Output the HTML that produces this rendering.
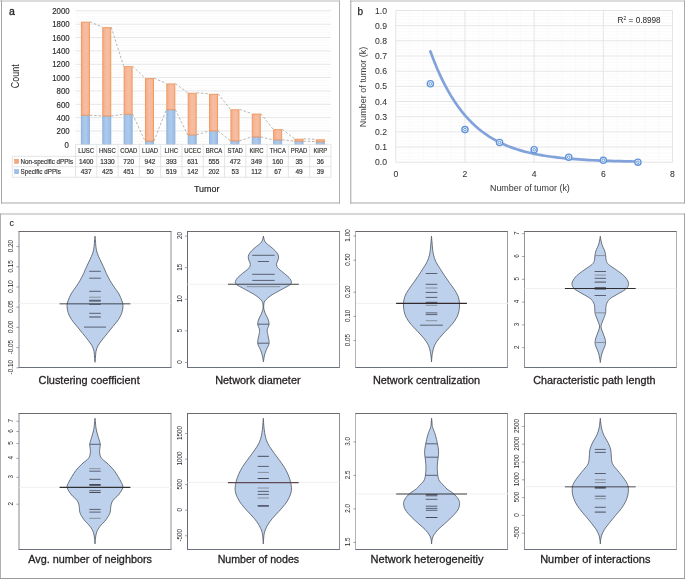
<!DOCTYPE html>
<html><head><meta charset="utf-8"><style>
html,body{margin:0;padding:0;background:#fff;}
body{width:685px;height:579px;overflow:hidden;}
svg{display:block;font-family:"Liberation Sans", sans-serif;will-change:transform;}
</style></head><body>
<svg width="685" height="579" viewBox="0 0 685 579">
<defs>
<linearGradient id="go" x1="0" y1="0" x2="1" y2="0"><stop offset="0" stop-color="#f4ac88"/><stop offset="0.5" stop-color="#f7bea3"/><stop offset="1" stop-color="#f5b593"/></linearGradient>
<linearGradient id="gb" x1="0" y1="0" x2="1" y2="0"><stop offset="0" stop-color="#9dbfe6"/><stop offset="0.5" stop-color="#afcaea"/><stop offset="1" stop-color="#98bae4"/></linearGradient>
</defs>
<rect width="685" height="579" fill="#fff"/>
<g fill="none">
<line x1="0" y1="1" x2="340" y2="1" stroke="#b8b8b8" stroke-width="1"/>
<line x1="1.5" y1="0.5" x2="1.5" y2="203.5" stroke="#a6a6a6"/>
<line x1="339.5" y1="0.5" x2="339.5" y2="203.5" stroke="#b0b0b0"/>
<line x1="1" y1="203" x2="340" y2="203" stroke="#a8a8a8"/>
<line x1="350" y1="1" x2="685" y2="1" stroke="#b8b8b8"/>
<line x1="350.8" y1="0.5" x2="350.8" y2="203.5" stroke="#a0a0a0"/>
<line x1="684.5" y1="0.5" x2="684.5" y2="203.5" stroke="#a8a8a8"/>
<line x1="350" y1="203" x2="685" y2="203" stroke="#a8a8a8"/>
<line x1="0" y1="214" x2="685" y2="214" stroke="#b0b0b0"/>
<line x1="0.5" y1="213.5" x2="0.5" y2="579" stroke="#b0b0b0"/>
<line x1="684.5" y1="213.5" x2="684.5" y2="579" stroke="#a4a4a4"/>
<line x1="0" y1="578.5" x2="685" y2="578.5" stroke="#9a9a9a"/>
</g>
<line x1="75.5" y1="141.68" x2="331.0" y2="141.68" stroke="#f9f9f9" stroke-width="0.8"/>
<line x1="75.5" y1="139.01" x2="331.0" y2="139.01" stroke="#f9f9f9" stroke-width="0.8"/>
<line x1="75.5" y1="136.34" x2="331.0" y2="136.34" stroke="#f9f9f9" stroke-width="0.8"/>
<line x1="75.5" y1="133.67" x2="331.0" y2="133.67" stroke="#f9f9f9" stroke-width="0.8"/>
<line x1="75.5" y1="128.33" x2="331.0" y2="128.33" stroke="#f9f9f9" stroke-width="0.8"/>
<line x1="75.5" y1="125.66" x2="331.0" y2="125.66" stroke="#f9f9f9" stroke-width="0.8"/>
<line x1="75.5" y1="122.99" x2="331.0" y2="122.99" stroke="#f9f9f9" stroke-width="0.8"/>
<line x1="75.5" y1="120.32" x2="331.0" y2="120.32" stroke="#f9f9f9" stroke-width="0.8"/>
<line x1="75.5" y1="114.98" x2="331.0" y2="114.98" stroke="#f9f9f9" stroke-width="0.8"/>
<line x1="75.5" y1="112.31" x2="331.0" y2="112.31" stroke="#f9f9f9" stroke-width="0.8"/>
<line x1="75.5" y1="109.64" x2="331.0" y2="109.64" stroke="#f9f9f9" stroke-width="0.8"/>
<line x1="75.5" y1="106.97" x2="331.0" y2="106.97" stroke="#f9f9f9" stroke-width="0.8"/>
<line x1="75.5" y1="101.63" x2="331.0" y2="101.63" stroke="#f9f9f9" stroke-width="0.8"/>
<line x1="75.5" y1="98.96" x2="331.0" y2="98.96" stroke="#f9f9f9" stroke-width="0.8"/>
<line x1="75.5" y1="96.29" x2="331.0" y2="96.29" stroke="#f9f9f9" stroke-width="0.8"/>
<line x1="75.5" y1="93.62" x2="331.0" y2="93.62" stroke="#f9f9f9" stroke-width="0.8"/>
<line x1="75.5" y1="88.28" x2="331.0" y2="88.28" stroke="#f9f9f9" stroke-width="0.8"/>
<line x1="75.5" y1="85.61" x2="331.0" y2="85.61" stroke="#f9f9f9" stroke-width="0.8"/>
<line x1="75.5" y1="82.94" x2="331.0" y2="82.94" stroke="#f9f9f9" stroke-width="0.8"/>
<line x1="75.5" y1="80.27" x2="331.0" y2="80.27" stroke="#f9f9f9" stroke-width="0.8"/>
<line x1="75.5" y1="74.93" x2="331.0" y2="74.93" stroke="#f9f9f9" stroke-width="0.8"/>
<line x1="75.5" y1="72.26" x2="331.0" y2="72.26" stroke="#f9f9f9" stroke-width="0.8"/>
<line x1="75.5" y1="69.59" x2="331.0" y2="69.59" stroke="#f9f9f9" stroke-width="0.8"/>
<line x1="75.5" y1="66.92" x2="331.0" y2="66.92" stroke="#f9f9f9" stroke-width="0.8"/>
<line x1="75.5" y1="61.58" x2="331.0" y2="61.58" stroke="#f9f9f9" stroke-width="0.8"/>
<line x1="75.5" y1="58.91" x2="331.0" y2="58.91" stroke="#f9f9f9" stroke-width="0.8"/>
<line x1="75.5" y1="56.24" x2="331.0" y2="56.24" stroke="#f9f9f9" stroke-width="0.8"/>
<line x1="75.5" y1="53.57" x2="331.0" y2="53.57" stroke="#f9f9f9" stroke-width="0.8"/>
<line x1="75.5" y1="48.23" x2="331.0" y2="48.23" stroke="#f9f9f9" stroke-width="0.8"/>
<line x1="75.5" y1="45.56" x2="331.0" y2="45.56" stroke="#f9f9f9" stroke-width="0.8"/>
<line x1="75.5" y1="42.89" x2="331.0" y2="42.89" stroke="#f9f9f9" stroke-width="0.8"/>
<line x1="75.5" y1="40.22" x2="331.0" y2="40.22" stroke="#f9f9f9" stroke-width="0.8"/>
<line x1="75.5" y1="34.88" x2="331.0" y2="34.88" stroke="#f9f9f9" stroke-width="0.8"/>
<line x1="75.5" y1="32.21" x2="331.0" y2="32.21" stroke="#f9f9f9" stroke-width="0.8"/>
<line x1="75.5" y1="29.54" x2="331.0" y2="29.54" stroke="#f9f9f9" stroke-width="0.8"/>
<line x1="75.5" y1="26.87" x2="331.0" y2="26.87" stroke="#f9f9f9" stroke-width="0.8"/>
<line x1="75.5" y1="21.53" x2="331.0" y2="21.53" stroke="#f9f9f9" stroke-width="0.8"/>
<line x1="75.5" y1="18.86" x2="331.0" y2="18.86" stroke="#f9f9f9" stroke-width="0.8"/>
<line x1="75.5" y1="16.19" x2="331.0" y2="16.19" stroke="#f9f9f9" stroke-width="0.8"/>
<line x1="75.5" y1="13.52" x2="331.0" y2="13.52" stroke="#f9f9f9" stroke-width="0.8"/>
<line x1="75.5" y1="131.00" x2="331.0" y2="131.00" stroke="#dedede" stroke-width="0.8"/>
<line x1="75.5" y1="117.65" x2="331.0" y2="117.65" stroke="#dedede" stroke-width="0.8"/>
<line x1="75.5" y1="104.30" x2="331.0" y2="104.30" stroke="#dedede" stroke-width="0.8"/>
<line x1="75.5" y1="90.95" x2="331.0" y2="90.95" stroke="#dedede" stroke-width="0.8"/>
<line x1="75.5" y1="77.60" x2="331.0" y2="77.60" stroke="#dedede" stroke-width="0.8"/>
<line x1="75.5" y1="64.25" x2="331.0" y2="64.25" stroke="#dedede" stroke-width="0.8"/>
<line x1="75.5" y1="50.90" x2="331.0" y2="50.90" stroke="#dedede" stroke-width="0.8"/>
<line x1="75.5" y1="37.55" x2="331.0" y2="37.55" stroke="#dedede" stroke-width="0.8"/>
<line x1="75.5" y1="24.20" x2="331.0" y2="24.20" stroke="#dedede" stroke-width="0.8"/>
<line x1="75.5" y1="10.85" x2="331.0" y2="10.85" stroke="#dedede" stroke-width="0.8"/>
<text x="68.80" y="147.55" font-size="8.6" fill="#2e2e2e" text-anchor="end" textLength="4.35" lengthAdjust="spacingAndGlyphs" stroke="#2e2e2e" stroke-width="0.18">0</text>
<text x="69.60" y="134.20" font-size="8.6" fill="#2e2e2e" text-anchor="end" textLength="13.05" lengthAdjust="spacingAndGlyphs" stroke="#2e2e2e" stroke-width="0.18">200</text>
<text x="69.60" y="120.85" font-size="8.6" fill="#2e2e2e" text-anchor="end" textLength="13.05" lengthAdjust="spacingAndGlyphs" stroke="#2e2e2e" stroke-width="0.18">400</text>
<text x="69.60" y="107.50" font-size="8.6" fill="#2e2e2e" text-anchor="end" textLength="13.05" lengthAdjust="spacingAndGlyphs" stroke="#2e2e2e" stroke-width="0.18">600</text>
<text x="69.60" y="94.15" font-size="8.6" fill="#2e2e2e" text-anchor="end" textLength="13.05" lengthAdjust="spacingAndGlyphs" stroke="#2e2e2e" stroke-width="0.18">800</text>
<text x="69.60" y="80.80" font-size="8.6" fill="#2e2e2e" text-anchor="end" textLength="17.4" lengthAdjust="spacingAndGlyphs" stroke="#2e2e2e" stroke-width="0.18">1000</text>
<text x="69.60" y="67.45" font-size="8.6" fill="#2e2e2e" text-anchor="end" textLength="17.4" lengthAdjust="spacingAndGlyphs" stroke="#2e2e2e" stroke-width="0.18">1200</text>
<text x="69.60" y="54.10" font-size="8.6" fill="#2e2e2e" text-anchor="end" textLength="17.4" lengthAdjust="spacingAndGlyphs" stroke="#2e2e2e" stroke-width="0.18">1400</text>
<text x="69.60" y="40.75" font-size="8.6" fill="#2e2e2e" text-anchor="end" textLength="17.4" lengthAdjust="spacingAndGlyphs" stroke="#2e2e2e" stroke-width="0.18">1600</text>
<text x="69.60" y="27.40" font-size="8.6" fill="#2e2e2e" text-anchor="end" textLength="17.4" lengthAdjust="spacingAndGlyphs" stroke="#2e2e2e" stroke-width="0.18">1800</text>
<text x="69.60" y="14.05" font-size="8.6" fill="#2e2e2e" text-anchor="end" textLength="17.4" lengthAdjust="spacingAndGlyphs" stroke="#2e2e2e" stroke-width="0.18">2000</text>
<rect x="81.40" y="115.18" width="8.00" height="29.17" fill="url(#gb)" stroke="#8db3e2" stroke-width="1"/>
<rect x="81.40" y="22.23" width="8.00" height="92.95" fill="url(#go)" stroke="#f09a62" stroke-width="1"/>
<rect x="102.76" y="115.98" width="8.00" height="28.37" fill="url(#gb)" stroke="#8db3e2" stroke-width="1"/>
<rect x="102.76" y="27.70" width="8.00" height="88.28" fill="url(#go)" stroke="#f09a62" stroke-width="1"/>
<rect x="124.12" y="114.25" width="8.00" height="30.10" fill="url(#gb)" stroke="#8db3e2" stroke-width="1"/>
<rect x="124.12" y="66.69" width="8.00" height="47.56" fill="url(#go)" stroke="#f09a62" stroke-width="1"/>
<rect x="145.48" y="141.01" width="8.00" height="3.34" fill="url(#gb)" stroke="#8db3e2" stroke-width="1"/>
<rect x="145.48" y="78.63" width="8.00" height="62.38" fill="url(#go)" stroke="#f09a62" stroke-width="1"/>
<rect x="166.84" y="109.71" width="8.00" height="34.64" fill="url(#gb)" stroke="#8db3e2" stroke-width="1"/>
<rect x="166.84" y="83.97" width="8.00" height="25.73" fill="url(#go)" stroke="#f09a62" stroke-width="1"/>
<rect x="188.20" y="134.87" width="8.00" height="9.48" fill="url(#gb)" stroke="#8db3e2" stroke-width="1"/>
<rect x="188.20" y="93.25" width="8.00" height="41.62" fill="url(#go)" stroke="#f09a62" stroke-width="1"/>
<rect x="209.56" y="130.87" width="8.00" height="13.48" fill="url(#gb)" stroke="#8db3e2" stroke-width="1"/>
<rect x="209.56" y="94.32" width="8.00" height="36.55" fill="url(#go)" stroke="#f09a62" stroke-width="1"/>
<rect x="230.92" y="140.81" width="8.00" height="3.54" fill="url(#gb)" stroke="#8db3e2" stroke-width="1"/>
<rect x="230.92" y="109.81" width="8.00" height="31.01" fill="url(#go)" stroke="#f09a62" stroke-width="1"/>
<rect x="252.28" y="136.87" width="8.00" height="7.48" fill="url(#gb)" stroke="#8db3e2" stroke-width="1"/>
<rect x="252.28" y="114.08" width="8.00" height="22.80" fill="url(#go)" stroke="#f09a62" stroke-width="1"/>
<rect x="273.64" y="139.88" width="8.00" height="4.47" fill="url(#gb)" stroke="#8db3e2" stroke-width="1"/>
<rect x="273.64" y="129.70" width="8.00" height="10.18" fill="url(#go)" stroke="#f09a62" stroke-width="1"/>
<rect x="295.00" y="141.08" width="8.00" height="3.27" fill="url(#gb)" stroke="#8db3e2" stroke-width="1"/>
<rect x="295.00" y="139.24" width="8.00" height="1.84" fill="url(#go)" stroke="#f09a62" stroke-width="1"/>
<rect x="316.36" y="141.75" width="8.00" height="2.60" fill="url(#gb)" stroke="#8db3e2" stroke-width="1"/>
<rect x="316.36" y="139.84" width="8.00" height="1.90" fill="url(#go)" stroke="#f09a62" stroke-width="1"/>
<line x1="89.90" y1="115.18" x2="102.26" y2="115.98" stroke="#9a9a9a" stroke-width="0.7" stroke-dasharray="2.5,1.8"/>
<line x1="89.90" y1="21.73" x2="102.26" y2="27.20" stroke="#9a9a9a" stroke-width="0.7" stroke-dasharray="2.5,1.8"/>
<line x1="111.26" y1="115.98" x2="123.62" y2="114.25" stroke="#9a9a9a" stroke-width="0.7" stroke-dasharray="2.5,1.8"/>
<line x1="111.26" y1="27.20" x2="123.62" y2="66.19" stroke="#9a9a9a" stroke-width="0.7" stroke-dasharray="2.5,1.8"/>
<line x1="132.62" y1="114.25" x2="144.98" y2="141.01" stroke="#9a9a9a" stroke-width="0.7" stroke-dasharray="2.5,1.8"/>
<line x1="132.62" y1="66.19" x2="144.98" y2="78.13" stroke="#9a9a9a" stroke-width="0.7" stroke-dasharray="2.5,1.8"/>
<line x1="153.98" y1="141.01" x2="166.34" y2="109.71" stroke="#9a9a9a" stroke-width="0.7" stroke-dasharray="2.5,1.8"/>
<line x1="153.98" y1="78.13" x2="166.34" y2="83.47" stroke="#9a9a9a" stroke-width="0.7" stroke-dasharray="2.5,1.8"/>
<line x1="175.34" y1="109.71" x2="187.70" y2="134.87" stroke="#9a9a9a" stroke-width="0.7" stroke-dasharray="2.5,1.8"/>
<line x1="175.34" y1="83.47" x2="187.70" y2="92.75" stroke="#9a9a9a" stroke-width="0.7" stroke-dasharray="2.5,1.8"/>
<line x1="196.70" y1="134.87" x2="209.06" y2="130.87" stroke="#9a9a9a" stroke-width="0.7" stroke-dasharray="2.5,1.8"/>
<line x1="196.70" y1="92.75" x2="209.06" y2="93.82" stroke="#9a9a9a" stroke-width="0.7" stroke-dasharray="2.5,1.8"/>
<line x1="218.06" y1="130.87" x2="230.42" y2="140.81" stroke="#9a9a9a" stroke-width="0.7" stroke-dasharray="2.5,1.8"/>
<line x1="218.06" y1="93.82" x2="230.42" y2="109.31" stroke="#9a9a9a" stroke-width="0.7" stroke-dasharray="2.5,1.8"/>
<line x1="239.42" y1="140.81" x2="251.78" y2="136.87" stroke="#9a9a9a" stroke-width="0.7" stroke-dasharray="2.5,1.8"/>
<line x1="239.42" y1="109.31" x2="251.78" y2="113.58" stroke="#9a9a9a" stroke-width="0.7" stroke-dasharray="2.5,1.8"/>
<line x1="260.78" y1="136.87" x2="273.14" y2="139.88" stroke="#9a9a9a" stroke-width="0.7" stroke-dasharray="2.5,1.8"/>
<line x1="260.78" y1="113.58" x2="273.14" y2="129.20" stroke="#9a9a9a" stroke-width="0.7" stroke-dasharray="2.5,1.8"/>
<line x1="282.14" y1="139.88" x2="294.50" y2="141.08" stroke="#9a9a9a" stroke-width="0.7" stroke-dasharray="2.5,1.8"/>
<line x1="282.14" y1="129.20" x2="294.50" y2="138.74" stroke="#9a9a9a" stroke-width="0.7" stroke-dasharray="2.5,1.8"/>
<line x1="303.50" y1="141.08" x2="315.86" y2="141.75" stroke="#9a9a9a" stroke-width="0.7" stroke-dasharray="2.5,1.8"/>
<line x1="303.50" y1="138.74" x2="315.86" y2="139.34" stroke="#9a9a9a" stroke-width="0.7" stroke-dasharray="2.5,1.8"/>
<g stroke="#dedede" stroke-width="0.8" fill="none">
<line x1="75.5" y1="144.35" x2="331.0" y2="144.35"/>
<line x1="12.3" y1="156.3" x2="331.0" y2="156.3"/>
<line x1="12.3" y1="166.7" x2="331.0" y2="166.7"/>
<line x1="12.3" y1="177.3" x2="331.0" y2="177.3"/>
<line x1="12.3" y1="156.3" x2="12.3" y2="177.3"/>
<line x1="75.50" y1="144.35" x2="75.50" y2="177.3"/>
<line x1="96.79" y1="144.35" x2="96.79" y2="177.3"/>
<line x1="118.08" y1="144.35" x2="118.08" y2="177.3"/>
<line x1="139.38" y1="144.35" x2="139.38" y2="177.3"/>
<line x1="160.67" y1="144.35" x2="160.67" y2="177.3"/>
<line x1="181.96" y1="144.35" x2="181.96" y2="177.3"/>
<line x1="203.25" y1="144.35" x2="203.25" y2="177.3"/>
<line x1="224.54" y1="144.35" x2="224.54" y2="177.3"/>
<line x1="245.83" y1="144.35" x2="245.83" y2="177.3"/>
<line x1="267.12" y1="144.35" x2="267.12" y2="177.3"/>
<line x1="288.42" y1="144.35" x2="288.42" y2="177.3"/>
<line x1="309.71" y1="144.35" x2="309.71" y2="177.3"/>
<line x1="331.00" y1="144.35" x2="331.00" y2="177.3"/>
</g>
<text x="86.15" y="153.00" font-size="6.6" fill="#333333" text-anchor="middle" textLength="15.84" lengthAdjust="spacingAndGlyphs" stroke="#333333" stroke-width="0.18">LUSC</text>
<text x="86.15" y="163.90" font-size="6.5" fill="#333333" text-anchor="middle"  stroke="#333333" stroke-width="0.18">1400</text>
<text x="86.15" y="174.20" font-size="6.5" fill="#333333" text-anchor="middle"  stroke="#333333" stroke-width="0.18">437</text>
<text x="107.44" y="153.00" font-size="6.6" fill="#333333" text-anchor="middle" textLength="16.83" lengthAdjust="spacingAndGlyphs" stroke="#333333" stroke-width="0.18">HNSC</text>
<text x="107.44" y="163.90" font-size="6.5" fill="#333333" text-anchor="middle"  stroke="#333333" stroke-width="0.18">1330</text>
<text x="107.44" y="174.20" font-size="6.5" fill="#333333" text-anchor="middle"  stroke="#333333" stroke-width="0.18">425</text>
<text x="128.73" y="153.00" font-size="6.6" fill="#333333" text-anchor="middle" textLength="17.16" lengthAdjust="spacingAndGlyphs" stroke="#333333" stroke-width="0.18">COAD</text>
<text x="128.73" y="163.90" font-size="6.5" fill="#333333" text-anchor="middle"  stroke="#333333" stroke-width="0.18">720</text>
<text x="128.73" y="174.20" font-size="6.5" fill="#333333" text-anchor="middle"  stroke="#333333" stroke-width="0.18">451</text>
<text x="150.02" y="153.00" font-size="6.6" fill="#333333" text-anchor="middle" textLength="15.84" lengthAdjust="spacingAndGlyphs" stroke="#333333" stroke-width="0.18">LUAD</text>
<text x="150.02" y="163.90" font-size="6.5" fill="#333333" text-anchor="middle"  stroke="#333333" stroke-width="0.18">942</text>
<text x="150.02" y="174.20" font-size="6.5" fill="#333333" text-anchor="middle"  stroke="#333333" stroke-width="0.18">50</text>
<text x="171.31" y="153.00" font-size="6.6" fill="#333333" text-anchor="middle" textLength="13.53" lengthAdjust="spacingAndGlyphs" stroke="#333333" stroke-width="0.18">LIHC</text>
<text x="171.31" y="163.90" font-size="6.5" fill="#333333" text-anchor="middle"  stroke="#333333" stroke-width="0.18">393</text>
<text x="171.31" y="174.20" font-size="6.5" fill="#333333" text-anchor="middle"  stroke="#333333" stroke-width="0.18">519</text>
<text x="192.60" y="153.00" font-size="6.6" fill="#333333" text-anchor="middle" textLength="16.83" lengthAdjust="spacingAndGlyphs" stroke="#333333" stroke-width="0.18">UCEC</text>
<text x="192.60" y="163.90" font-size="6.5" fill="#333333" text-anchor="middle"  stroke="#333333" stroke-width="0.18">631</text>
<text x="192.60" y="174.20" font-size="6.5" fill="#333333" text-anchor="middle"  stroke="#333333" stroke-width="0.18">142</text>
<text x="213.90" y="153.00" font-size="6.6" fill="#333333" text-anchor="middle" textLength="16.50" lengthAdjust="spacingAndGlyphs" stroke="#333333" stroke-width="0.18">BRCA</text>
<text x="213.90" y="163.90" font-size="6.5" fill="#333333" text-anchor="middle"  stroke="#333333" stroke-width="0.18">555</text>
<text x="213.90" y="174.20" font-size="6.5" fill="#333333" text-anchor="middle"  stroke="#333333" stroke-width="0.18">202</text>
<text x="235.19" y="153.00" font-size="6.6" fill="#333333" text-anchor="middle" textLength="15.40" lengthAdjust="spacingAndGlyphs" stroke="#333333" stroke-width="0.18">STAD</text>
<text x="235.19" y="163.90" font-size="6.5" fill="#333333" text-anchor="middle"  stroke="#333333" stroke-width="0.18">472</text>
<text x="235.19" y="174.20" font-size="6.5" fill="#333333" text-anchor="middle"  stroke="#333333" stroke-width="0.18">53</text>
<text x="256.48" y="153.00" font-size="6.6" fill="#333333" text-anchor="middle" textLength="14.19" lengthAdjust="spacingAndGlyphs" stroke="#333333" stroke-width="0.18">KIRC</text>
<text x="256.48" y="163.90" font-size="6.5" fill="#333333" text-anchor="middle"  stroke="#333333" stroke-width="0.18">349</text>
<text x="256.48" y="174.20" font-size="6.5" fill="#333333" text-anchor="middle"  stroke="#333333" stroke-width="0.18">112</text>
<text x="277.77" y="153.00" font-size="6.6" fill="#333333" text-anchor="middle" textLength="16.17" lengthAdjust="spacingAndGlyphs" stroke="#333333" stroke-width="0.18">THCA</text>
<text x="277.77" y="163.90" font-size="6.5" fill="#333333" text-anchor="middle"  stroke="#333333" stroke-width="0.18">160</text>
<text x="277.77" y="174.20" font-size="6.5" fill="#333333" text-anchor="middle"  stroke="#333333" stroke-width="0.18">67</text>
<text x="299.06" y="153.00" font-size="6.6" fill="#333333" text-anchor="middle" textLength="16.50" lengthAdjust="spacingAndGlyphs" stroke="#333333" stroke-width="0.18">PRAD</text>
<text x="299.06" y="163.90" font-size="6.5" fill="#333333" text-anchor="middle"  stroke="#333333" stroke-width="0.18">35</text>
<text x="299.06" y="174.20" font-size="6.5" fill="#333333" text-anchor="middle"  stroke="#333333" stroke-width="0.18">49</text>
<text x="320.35" y="153.00" font-size="6.6" fill="#333333" text-anchor="middle" textLength="13.86" lengthAdjust="spacingAndGlyphs" stroke="#333333" stroke-width="0.18">KIRP</text>
<text x="320.35" y="163.90" font-size="6.5" fill="#333333" text-anchor="middle"  stroke="#333333" stroke-width="0.18">36</text>
<text x="320.35" y="174.20" font-size="6.5" fill="#333333" text-anchor="middle"  stroke="#333333" stroke-width="0.18">39</text>
<rect x="14.7" y="159.3" width="4" height="4" fill="#f4a77e" stroke="#ee8d55" stroke-width="0.5"/>
<rect x="14.7" y="169.7" width="4" height="4" fill="#9fc0e6" stroke="#7fa7da" stroke-width="0.5"/>
<text x="20.50" y="163.90" font-size="6.6" fill="#333333" text-anchor="start" textLength="52.7" lengthAdjust="spacingAndGlyphs" stroke="#333333" stroke-width="0.18">Non-specific dPPIs</text>
<text x="20.50" y="174.20" font-size="6.6" fill="#333333" text-anchor="start" textLength="40.5" lengthAdjust="spacingAndGlyphs" stroke="#333333" stroke-width="0.18">Specific dPPIs</text>
<text x="206.70" y="192.20" font-size="9.2" fill="#262626" text-anchor="middle" textLength="25.5" lengthAdjust="spacingAndGlyphs" stroke="#262626" stroke-width="0.18">Tumor</text>
<text transform="translate(19.2,76.2) rotate(-90)" font-size="10" fill="#262626" text-anchor="middle" textLength="23.9" lengthAdjust="spacingAndGlyphs">Count</text>
<text x="9.00" y="14.90" font-size="10.5" fill="#262626" text-anchor="start" stroke="#262626" stroke-width="0.35">a</text>
<line x1="395.8" y1="159.17" x2="672.5" y2="159.17" stroke="#f9f9f9" stroke-width="0.8"/>
<line x1="395.8" y1="156.13" x2="672.5" y2="156.13" stroke="#f9f9f9" stroke-width="0.8"/>
<line x1="395.8" y1="153.10" x2="672.5" y2="153.10" stroke="#f9f9f9" stroke-width="0.8"/>
<line x1="395.8" y1="150.06" x2="672.5" y2="150.06" stroke="#f9f9f9" stroke-width="0.8"/>
<line x1="395.8" y1="144.00" x2="672.5" y2="144.00" stroke="#f9f9f9" stroke-width="0.8"/>
<line x1="395.8" y1="140.96" x2="672.5" y2="140.96" stroke="#f9f9f9" stroke-width="0.8"/>
<line x1="395.8" y1="137.93" x2="672.5" y2="137.93" stroke="#f9f9f9" stroke-width="0.8"/>
<line x1="395.8" y1="134.89" x2="672.5" y2="134.89" stroke="#f9f9f9" stroke-width="0.8"/>
<line x1="395.8" y1="128.83" x2="672.5" y2="128.83" stroke="#f9f9f9" stroke-width="0.8"/>
<line x1="395.8" y1="125.79" x2="672.5" y2="125.79" stroke="#f9f9f9" stroke-width="0.8"/>
<line x1="395.8" y1="122.76" x2="672.5" y2="122.76" stroke="#f9f9f9" stroke-width="0.8"/>
<line x1="395.8" y1="119.72" x2="672.5" y2="119.72" stroke="#f9f9f9" stroke-width="0.8"/>
<line x1="395.8" y1="113.66" x2="672.5" y2="113.66" stroke="#f9f9f9" stroke-width="0.8"/>
<line x1="395.8" y1="110.62" x2="672.5" y2="110.62" stroke="#f9f9f9" stroke-width="0.8"/>
<line x1="395.8" y1="107.59" x2="672.5" y2="107.59" stroke="#f9f9f9" stroke-width="0.8"/>
<line x1="395.8" y1="104.55" x2="672.5" y2="104.55" stroke="#f9f9f9" stroke-width="0.8"/>
<line x1="395.8" y1="98.49" x2="672.5" y2="98.49" stroke="#f9f9f9" stroke-width="0.8"/>
<line x1="395.8" y1="95.45" x2="672.5" y2="95.45" stroke="#f9f9f9" stroke-width="0.8"/>
<line x1="395.8" y1="92.42" x2="672.5" y2="92.42" stroke="#f9f9f9" stroke-width="0.8"/>
<line x1="395.8" y1="89.38" x2="672.5" y2="89.38" stroke="#f9f9f9" stroke-width="0.8"/>
<line x1="395.8" y1="83.32" x2="672.5" y2="83.32" stroke="#f9f9f9" stroke-width="0.8"/>
<line x1="395.8" y1="80.28" x2="672.5" y2="80.28" stroke="#f9f9f9" stroke-width="0.8"/>
<line x1="395.8" y1="77.25" x2="672.5" y2="77.25" stroke="#f9f9f9" stroke-width="0.8"/>
<line x1="395.8" y1="74.21" x2="672.5" y2="74.21" stroke="#f9f9f9" stroke-width="0.8"/>
<line x1="395.8" y1="68.15" x2="672.5" y2="68.15" stroke="#f9f9f9" stroke-width="0.8"/>
<line x1="395.8" y1="65.11" x2="672.5" y2="65.11" stroke="#f9f9f9" stroke-width="0.8"/>
<line x1="395.8" y1="62.08" x2="672.5" y2="62.08" stroke="#f9f9f9" stroke-width="0.8"/>
<line x1="395.8" y1="59.04" x2="672.5" y2="59.04" stroke="#f9f9f9" stroke-width="0.8"/>
<line x1="395.8" y1="52.98" x2="672.5" y2="52.98" stroke="#f9f9f9" stroke-width="0.8"/>
<line x1="395.8" y1="49.94" x2="672.5" y2="49.94" stroke="#f9f9f9" stroke-width="0.8"/>
<line x1="395.8" y1="46.91" x2="672.5" y2="46.91" stroke="#f9f9f9" stroke-width="0.8"/>
<line x1="395.8" y1="43.87" x2="672.5" y2="43.87" stroke="#f9f9f9" stroke-width="0.8"/>
<line x1="395.8" y1="37.81" x2="672.5" y2="37.81" stroke="#f9f9f9" stroke-width="0.8"/>
<line x1="395.8" y1="34.77" x2="672.5" y2="34.77" stroke="#f9f9f9" stroke-width="0.8"/>
<line x1="395.8" y1="31.74" x2="672.5" y2="31.74" stroke="#f9f9f9" stroke-width="0.8"/>
<line x1="395.8" y1="28.70" x2="672.5" y2="28.70" stroke="#f9f9f9" stroke-width="0.8"/>
<line x1="395.8" y1="22.64" x2="672.5" y2="22.64" stroke="#f9f9f9" stroke-width="0.8"/>
<line x1="395.8" y1="19.60" x2="672.5" y2="19.60" stroke="#f9f9f9" stroke-width="0.8"/>
<line x1="395.8" y1="16.57" x2="672.5" y2="16.57" stroke="#f9f9f9" stroke-width="0.8"/>
<line x1="395.8" y1="13.53" x2="672.5" y2="13.53" stroke="#f9f9f9" stroke-width="0.8"/>
<line x1="409.63" y1="10.5" x2="409.63" y2="162.2" stroke="#f9f9f9" stroke-width="0.8"/>
<line x1="423.47" y1="10.5" x2="423.47" y2="162.2" stroke="#f9f9f9" stroke-width="0.8"/>
<line x1="437.31" y1="10.5" x2="437.31" y2="162.2" stroke="#f9f9f9" stroke-width="0.8"/>
<line x1="451.14" y1="10.5" x2="451.14" y2="162.2" stroke="#f9f9f9" stroke-width="0.8"/>
<line x1="478.81" y1="10.5" x2="478.81" y2="162.2" stroke="#f9f9f9" stroke-width="0.8"/>
<line x1="492.64" y1="10.5" x2="492.64" y2="162.2" stroke="#f9f9f9" stroke-width="0.8"/>
<line x1="506.48" y1="10.5" x2="506.48" y2="162.2" stroke="#f9f9f9" stroke-width="0.8"/>
<line x1="520.32" y1="10.5" x2="520.32" y2="162.2" stroke="#f9f9f9" stroke-width="0.8"/>
<line x1="547.99" y1="10.5" x2="547.99" y2="162.2" stroke="#f9f9f9" stroke-width="0.8"/>
<line x1="561.82" y1="10.5" x2="561.82" y2="162.2" stroke="#f9f9f9" stroke-width="0.8"/>
<line x1="575.65" y1="10.5" x2="575.65" y2="162.2" stroke="#f9f9f9" stroke-width="0.8"/>
<line x1="589.49" y1="10.5" x2="589.49" y2="162.2" stroke="#f9f9f9" stroke-width="0.8"/>
<line x1="617.16" y1="10.5" x2="617.16" y2="162.2" stroke="#f9f9f9" stroke-width="0.8"/>
<line x1="631.00" y1="10.5" x2="631.00" y2="162.2" stroke="#f9f9f9" stroke-width="0.8"/>
<line x1="644.83" y1="10.5" x2="644.83" y2="162.2" stroke="#f9f9f9" stroke-width="0.8"/>
<line x1="658.66" y1="10.5" x2="658.66" y2="162.2" stroke="#f9f9f9" stroke-width="0.8"/>
<line x1="395.8" y1="162.20" x2="672.5" y2="162.20" stroke="#dedede" stroke-width="0.8"/>
<line x1="395.8" y1="147.03" x2="672.5" y2="147.03" stroke="#dedede" stroke-width="0.8"/>
<line x1="395.8" y1="131.86" x2="672.5" y2="131.86" stroke="#dedede" stroke-width="0.8"/>
<line x1="395.8" y1="116.69" x2="672.5" y2="116.69" stroke="#dedede" stroke-width="0.8"/>
<line x1="395.8" y1="101.52" x2="672.5" y2="101.52" stroke="#dedede" stroke-width="0.8"/>
<line x1="395.8" y1="86.35" x2="672.5" y2="86.35" stroke="#dedede" stroke-width="0.8"/>
<line x1="395.8" y1="71.18" x2="672.5" y2="71.18" stroke="#dedede" stroke-width="0.8"/>
<line x1="395.8" y1="56.01" x2="672.5" y2="56.01" stroke="#dedede" stroke-width="0.8"/>
<line x1="395.8" y1="40.84" x2="672.5" y2="40.84" stroke="#dedede" stroke-width="0.8"/>
<line x1="395.8" y1="25.67" x2="672.5" y2="25.67" stroke="#dedede" stroke-width="0.8"/>
<line x1="395.8" y1="10.50" x2="672.5" y2="10.50" stroke="#dedede" stroke-width="0.8"/>
<line x1="395.80" y1="10.5" x2="395.80" y2="162.2" stroke="#dedede" stroke-width="0.8"/>
<line x1="464.98" y1="10.5" x2="464.98" y2="162.2" stroke="#dedede" stroke-width="0.8"/>
<line x1="534.15" y1="10.5" x2="534.15" y2="162.2" stroke="#dedede" stroke-width="0.8"/>
<line x1="603.33" y1="10.5" x2="603.33" y2="162.2" stroke="#dedede" stroke-width="0.8"/>
<line x1="672.50" y1="10.5" x2="672.50" y2="162.2" stroke="#dedede" stroke-width="0.8"/>
<text x="387.00" y="165.30" font-size="8.6" fill="#333333" text-anchor="end"  stroke="#333333" stroke-width="0.06">0.0</text>
<text x="387.00" y="150.13" font-size="8.6" fill="#333333" text-anchor="end"  stroke="#333333" stroke-width="0.06">0.1</text>
<text x="387.00" y="134.96" font-size="8.6" fill="#333333" text-anchor="end"  stroke="#333333" stroke-width="0.06">0.2</text>
<text x="387.00" y="119.79" font-size="8.6" fill="#333333" text-anchor="end"  stroke="#333333" stroke-width="0.06">0.3</text>
<text x="387.00" y="104.62" font-size="8.6" fill="#333333" text-anchor="end"  stroke="#333333" stroke-width="0.06">0.4</text>
<text x="387.00" y="89.45" font-size="8.6" fill="#333333" text-anchor="end"  stroke="#333333" stroke-width="0.06">0.5</text>
<text x="387.00" y="74.28" font-size="8.6" fill="#333333" text-anchor="end"  stroke="#333333" stroke-width="0.06">0.6</text>
<text x="387.00" y="59.11" font-size="8.6" fill="#333333" text-anchor="end"  stroke="#333333" stroke-width="0.06">0.7</text>
<text x="387.00" y="43.94" font-size="8.6" fill="#333333" text-anchor="end"  stroke="#333333" stroke-width="0.06">0.8</text>
<text x="387.00" y="28.77" font-size="8.6" fill="#333333" text-anchor="end"  stroke="#333333" stroke-width="0.06">0.9</text>
<text x="387.00" y="13.60" font-size="8.6" fill="#333333" text-anchor="end"  stroke="#333333" stroke-width="0.06">1.0</text>
<text x="395.80" y="177.00" font-size="8.6" fill="#333333" text-anchor="middle"  stroke="#333333" stroke-width="0.06">0</text>
<text x="464.98" y="177.00" font-size="8.6" fill="#333333" text-anchor="middle"  stroke="#333333" stroke-width="0.06">2</text>
<text x="534.15" y="177.00" font-size="8.6" fill="#333333" text-anchor="middle"  stroke="#333333" stroke-width="0.06">4</text>
<text x="603.33" y="177.00" font-size="8.6" fill="#333333" text-anchor="middle"  stroke="#333333" stroke-width="0.06">6</text>
<text x="672.50" y="177.00" font-size="8.6" fill="#333333" text-anchor="middle"  stroke="#333333" stroke-width="0.06">8</text>
<polyline points="430.39,51.47 433.85,60.59 437.31,68.96 440.76,76.65 444.22,83.70 447.68,90.17 451.14,96.10 454.60,101.55 458.06,106.55 461.52,111.13 464.98,115.34 468.43,119.20 471.89,122.75 475.35,126.00 478.81,128.98 482.27,131.72 485.73,134.23 489.19,136.53 492.64,138.65 496.10,140.59 499.56,142.37 503.02,144.01 506.48,145.50 509.94,146.88 513.40,148.14 516.86,149.30 520.32,150.36 523.77,151.34 527.23,152.23 530.69,153.06 534.15,153.81 537.61,154.50 541.07,155.14 544.53,155.72 547.99,156.25 551.44,156.74 554.90,157.19 558.36,157.60 561.82,157.98 565.28,158.33 568.74,158.65 572.20,158.94 575.65,159.21 579.11,159.46 582.57,159.68 586.03,159.89 589.49,160.08 592.95,160.26 596.41,160.42 599.87,160.56 603.33,160.70 606.78,160.82 610.24,160.93 613.70,161.04 617.16,161.13 620.62,161.22 624.08,161.30 627.54,161.38 631.00,161.44 634.45,161.51 637.91,161.56" fill="none" stroke="#82a2db" stroke-width="2.7" stroke-linecap="round"/>
<circle cx="430.39" cy="83.77" r="3.1" fill="#fff" stroke="#6195d8" stroke-width="1.4"/>
<circle cx="430.39" cy="83.77" r="1.3" fill="none" stroke="#6195d8" stroke-width="1.0"/>
<circle cx="464.98" cy="129.58" r="3.1" fill="#fff" stroke="#6195d8" stroke-width="1.4"/>
<circle cx="464.98" cy="129.58" r="1.3" fill="none" stroke="#6195d8" stroke-width="1.0"/>
<circle cx="499.56" cy="142.48" r="3.1" fill="#fff" stroke="#6195d8" stroke-width="1.4"/>
<circle cx="499.56" cy="142.48" r="1.3" fill="none" stroke="#6195d8" stroke-width="1.0"/>
<circle cx="534.15" cy="149.76" r="3.1" fill="#fff" stroke="#6195d8" stroke-width="1.4"/>
<circle cx="534.15" cy="149.76" r="1.3" fill="none" stroke="#6195d8" stroke-width="1.0"/>
<circle cx="568.74" cy="157.19" r="3.1" fill="#fff" stroke="#6195d8" stroke-width="1.4"/>
<circle cx="568.74" cy="157.19" r="1.3" fill="none" stroke="#6195d8" stroke-width="1.0"/>
<circle cx="603.33" cy="160.30" r="3.1" fill="#fff" stroke="#6195d8" stroke-width="1.4"/>
<circle cx="603.33" cy="160.30" r="1.3" fill="none" stroke="#6195d8" stroke-width="1.0"/>
<circle cx="637.91" cy="162.20" r="3.1" fill="#fff" stroke="#6195d8" stroke-width="1.4"/>
<circle cx="637.91" cy="162.20" r="1.3" fill="none" stroke="#6195d8" stroke-width="1.0"/>
<text x="529.90" y="190.70" font-size="9" fill="#404040" text-anchor="middle" textLength="79.9" lengthAdjust="spacingAndGlyphs" stroke="#404040" stroke-width="0.06">Number of tumor (k)</text>
<text transform="translate(366.4,87) rotate(-90)" font-size="9" fill="#404040" text-anchor="middle" textLength="80.3" lengthAdjust="spacingAndGlyphs">Number of tumor (k)</text>
<text x="617.6" y="22.7" font-size="8.2" fill="#262626">R<tspan font-size="5" dy="-3.2">2</tspan><tspan dy="3.2"> = 0.8998</tspan></text>
<text x="357.60" y="14.60" font-size="10.0" fill="#262626" text-anchor="start" stroke="#262626" stroke-width="0.25">b</text>
<text x="9.40" y="226.40" font-size="8.8" fill="#231f20" text-anchor="start" stroke="#231f20" stroke-width="0.1">c</text>
<line x1="18.50" y1="231.50" x2="171.50" y2="231.50" stroke="#6e686e" stroke-width="1"/>
<line x1="18.50" y1="367.50" x2="171.50" y2="367.50" stroke="#6a707c" stroke-width="1"/>
<line x1="19.00" y1="231.50" x2="19.00" y2="367.50" stroke="#8a8690" stroke-width="1"/>
<line x1="171.00" y1="231.50" x2="171.00" y2="367.50" stroke="#938e96" stroke-width="1"/>
<line x1="187.00" y1="231.50" x2="340.00" y2="231.50" stroke="#6e686e" stroke-width="1"/>
<line x1="187.00" y1="367.50" x2="340.00" y2="367.50" stroke="#6a707c" stroke-width="1"/>
<line x1="187.50" y1="231.50" x2="187.50" y2="367.50" stroke="#666a74" stroke-width="1"/>
<line x1="339.50" y1="231.50" x2="339.50" y2="367.50" stroke="#8e8e94" stroke-width="1"/>
<line x1="355.00" y1="231.50" x2="508.00" y2="231.50" stroke="#6e686e" stroke-width="1"/>
<line x1="355.00" y1="367.50" x2="508.00" y2="367.50" stroke="#6a707c" stroke-width="1"/>
<line x1="355.50" y1="231.50" x2="355.50" y2="367.50" stroke="#b8b0b4" stroke-width="1"/>
<line x1="507.50" y1="231.50" x2="507.50" y2="367.50" stroke="#9a9aa2" stroke-width="1"/>
<line x1="524.00" y1="231.50" x2="677.00" y2="231.50" stroke="#6e686e" stroke-width="1"/>
<line x1="524.00" y1="367.50" x2="677.00" y2="367.50" stroke="#6a707c" stroke-width="1"/>
<line x1="524.50" y1="231.50" x2="524.50" y2="367.50" stroke="#94949c" stroke-width="1"/>
<line x1="676.50" y1="231.50" x2="676.50" y2="367.50" stroke="#b4aeb4" stroke-width="1"/>
<line x1="18.50" y1="413.50" x2="171.50" y2="413.50" stroke="#6e686e" stroke-width="1"/>
<line x1="18.50" y1="549.50" x2="171.50" y2="549.50" stroke="#6a707c" stroke-width="1"/>
<line x1="19.00" y1="413.50" x2="19.00" y2="549.50" stroke="#8a8690" stroke-width="1"/>
<line x1="171.00" y1="413.50" x2="171.00" y2="549.50" stroke="#938e96" stroke-width="1"/>
<line x1="187.00" y1="413.50" x2="340.00" y2="413.50" stroke="#6e686e" stroke-width="1"/>
<line x1="187.00" y1="549.50" x2="340.00" y2="549.50" stroke="#6a707c" stroke-width="1"/>
<line x1="187.50" y1="413.50" x2="187.50" y2="549.50" stroke="#666a74" stroke-width="1"/>
<line x1="339.50" y1="413.50" x2="339.50" y2="549.50" stroke="#8e8e94" stroke-width="1"/>
<line x1="355.00" y1="413.50" x2="508.00" y2="413.50" stroke="#6e686e" stroke-width="1"/>
<line x1="355.00" y1="549.50" x2="508.00" y2="549.50" stroke="#6a707c" stroke-width="1"/>
<line x1="355.50" y1="413.50" x2="355.50" y2="549.50" stroke="#b8b0b4" stroke-width="1"/>
<line x1="507.50" y1="413.50" x2="507.50" y2="549.50" stroke="#9a9aa2" stroke-width="1"/>
<line x1="524.00" y1="413.50" x2="677.00" y2="413.50" stroke="#6e686e" stroke-width="1"/>
<line x1="524.00" y1="549.50" x2="677.00" y2="549.50" stroke="#6a707c" stroke-width="1"/>
<line x1="524.50" y1="413.50" x2="524.50" y2="549.50" stroke="#94949c" stroke-width="1"/>
<line x1="676.50" y1="413.50" x2="676.50" y2="549.50" stroke="#b4aeb4" stroke-width="1"/>
<text x="89.10" y="384.00" font-size="11.2" fill="#231f20" text-anchor="middle" textLength="101.2" lengthAdjust="spacingAndGlyphs" stroke="#231f20" stroke-width="0.3">Clustering coefficient</text>
<text x="257.90" y="384.00" font-size="11.2" fill="#231f20" text-anchor="middle" textLength="85.4" lengthAdjust="spacingAndGlyphs" stroke="#231f20" stroke-width="0.3">Network diameter</text>
<text x="426.50" y="384.00" font-size="11.2" fill="#231f20" text-anchor="middle" textLength="107.2" lengthAdjust="spacingAndGlyphs" stroke="#231f20" stroke-width="0.3">Network centralization</text>
<text x="594.30" y="384.00" font-size="11.2" fill="#231f20" text-anchor="middle" textLength="122.2" lengthAdjust="spacingAndGlyphs" stroke="#231f20" stroke-width="0.3">Characteristic path length</text>
<text x="90.10" y="562.90" font-size="11.2" fill="#231f20" text-anchor="middle" textLength="123.8" lengthAdjust="spacingAndGlyphs" stroke="#231f20" stroke-width="0.3">Avg. number of neighbors</text>
<text x="258.40" y="562.90" font-size="11.2" fill="#231f20" text-anchor="middle" textLength="81.5" lengthAdjust="spacingAndGlyphs" stroke="#231f20" stroke-width="0.3">Number of nodes</text>
<text x="427.00" y="562.90" font-size="11.2" fill="#231f20" text-anchor="middle" textLength="112.9" lengthAdjust="spacingAndGlyphs" stroke="#231f20" stroke-width="0.3">Network heterogeneitiy</text>
<text x="595.30" y="562.90" font-size="11.2" fill="#231f20" text-anchor="middle" textLength="110.3" lengthAdjust="spacingAndGlyphs" stroke="#231f20" stroke-width="0.3">Number of interactions</text>
<line x1="16.40" y1="246.60" x2="19.00" y2="246.60" stroke="#7a8090" stroke-width="0.7"/>
<text transform="translate(13.20,246.10) rotate(-90)" font-size="6.3" fill="#231f20" text-anchor="middle">0.20</text>
<line x1="16.40" y1="266.80" x2="19.00" y2="266.80" stroke="#7a8090" stroke-width="0.7"/>
<text transform="translate(13.20,266.30) rotate(-90)" font-size="6.3" fill="#231f20" text-anchor="middle">0.15</text>
<line x1="16.40" y1="287.00" x2="19.00" y2="287.00" stroke="#7a8090" stroke-width="0.7"/>
<text transform="translate(13.20,286.50) rotate(-90)" font-size="6.3" fill="#231f20" text-anchor="middle">0.10</text>
<line x1="16.40" y1="307.20" x2="19.00" y2="307.20" stroke="#7a8090" stroke-width="0.7"/>
<text transform="translate(13.20,306.70) rotate(-90)" font-size="6.3" fill="#231f20" text-anchor="middle">0.05</text>
<line x1="16.40" y1="327.40" x2="19.00" y2="327.40" stroke="#7a8090" stroke-width="0.7"/>
<text transform="translate(13.20,326.90) rotate(-90)" font-size="6.3" fill="#231f20" text-anchor="middle">0.00</text>
<line x1="16.40" y1="347.60" x2="19.00" y2="347.60" stroke="#7a8090" stroke-width="0.7"/>
<text transform="translate(13.20,347.10) rotate(-90)" font-size="6.3" fill="#231f20" text-anchor="middle">-0.05</text>
<line x1="16.40" y1="367.80" x2="19.00" y2="367.80" stroke="#7a8090" stroke-width="0.7"/>
<text transform="translate(13.20,367.30) rotate(-90)" font-size="6.3" fill="#231f20" text-anchor="middle">-0.10</text>
<line x1="19.00" y1="303.40" x2="171.00" y2="303.40" stroke="#eceef0" stroke-width="0.9"/>
<path d="M95.00,236.20 C95.08,237.00 95.35,239.28 95.50,241.00 C95.65,242.72 95.62,244.50 95.90,246.50 C96.18,248.50 96.52,250.83 97.20,253.00 C97.88,255.17 98.98,257.27 100.00,259.50 C101.02,261.73 102.25,264.10 103.30,266.40 C104.35,268.70 105.22,271.00 106.30,273.30 C107.38,275.60 108.47,277.88 109.80,280.20 C111.13,282.52 112.77,284.90 114.30,287.20 C115.83,289.50 117.72,291.70 119.00,294.00 C120.28,296.30 121.33,299.05 122.00,301.00 C122.67,302.95 123.02,303.77 123.00,305.70 C122.98,307.63 122.65,310.30 121.90,312.60 C121.15,314.90 119.98,317.20 118.50,319.50 C117.02,321.80 114.85,324.10 113.00,326.40 C111.15,328.70 109.25,331.00 107.40,333.30 C105.55,335.60 103.47,338.12 101.90,340.20 C100.33,342.28 98.98,343.95 98.00,345.80 C97.02,347.65 96.42,349.43 96.00,351.30 C95.58,353.17 95.67,355.17 95.50,357.00 C95.33,358.83 95.08,361.42 95.00,362.30 L95.00,362.30 C94.92,361.42 94.67,358.83 94.50,357.00 C94.33,355.17 94.42,353.17 94.00,351.30 C93.58,349.43 92.98,347.65 92.00,345.80 C91.02,343.95 89.67,342.28 88.10,340.20 C86.53,338.12 84.45,335.60 82.60,333.30 C80.75,331.00 78.85,328.70 77.00,326.40 C75.15,324.10 72.98,321.80 71.50,319.50 C70.02,317.20 68.85,314.90 68.10,312.60 C67.35,310.30 67.02,307.63 67.00,305.70 C66.98,303.77 67.33,302.95 68.00,301.00 C68.67,299.05 69.72,296.30 71.00,294.00 C72.28,291.70 74.17,289.50 75.70,287.20 C77.23,284.90 78.87,282.52 80.20,280.20 C81.53,277.88 82.62,275.60 83.70,273.30 C84.78,271.00 85.65,268.70 86.70,266.40 C87.75,264.10 88.98,261.73 90.00,259.50 C91.02,257.27 92.12,255.17 92.80,253.00 C93.48,250.83 93.82,248.50 94.10,246.50 C94.38,244.50 94.35,242.72 94.50,241.00 C94.65,239.28 94.92,237.00 95.00,236.20 Z" fill="#bdd1ed" stroke="#454c58" stroke-width="0.75"/>
<line x1="89.20" y1="271.30" x2="100.80" y2="271.30" stroke="#5a6070" stroke-width="1"/>
<line x1="89.20" y1="278.20" x2="100.80" y2="278.20" stroke="#5a6070" stroke-width="1"/>
<line x1="89.20" y1="291.30" x2="100.80" y2="291.30" stroke="#5a6070" stroke-width="1"/>
<line x1="89.20" y1="297.20" x2="100.80" y2="297.20" stroke="#8a909c" stroke-width="1"/>
<line x1="89.20" y1="300.30" x2="100.80" y2="300.30" stroke="#474c58" stroke-width="1"/>
<line x1="89.20" y1="301.10" x2="100.80" y2="301.10" stroke="#5a6070" stroke-width="1"/>
<line x1="89.20" y1="304.30" x2="100.80" y2="304.30" stroke="#5a6070" stroke-width="1"/>
<line x1="89.20" y1="313.30" x2="100.80" y2="313.30" stroke="#5a6070" stroke-width="1"/>
<line x1="89.20" y1="317.00" x2="100.80" y2="317.00" stroke="#474c58" stroke-width="1"/>
<line x1="84.00" y1="327.10" x2="106.00" y2="327.10" stroke="#5a6070" stroke-width="1"/>
<line x1="59.60" y1="303.80" x2="130.40" y2="303.80" stroke="#272a30" stroke-opacity="0.55" stroke-width="1.4"/>
<line x1="184.90" y1="236.10" x2="187.50" y2="236.10" stroke="#7a8090" stroke-width="0.7"/>
<text transform="translate(181.70,235.60) rotate(-90)" font-size="6.3" fill="#231f20" text-anchor="middle">20</text>
<line x1="184.90" y1="267.70" x2="187.50" y2="267.70" stroke="#7a8090" stroke-width="0.7"/>
<text transform="translate(181.70,267.20) rotate(-90)" font-size="6.3" fill="#231f20" text-anchor="middle">15</text>
<line x1="184.90" y1="299.30" x2="187.50" y2="299.30" stroke="#7a8090" stroke-width="0.7"/>
<text transform="translate(181.70,298.80) rotate(-90)" font-size="6.3" fill="#231f20" text-anchor="middle">10</text>
<line x1="184.90" y1="330.90" x2="187.50" y2="330.90" stroke="#7a8090" stroke-width="0.7"/>
<text transform="translate(181.70,330.40) rotate(-90)" font-size="6.3" fill="#231f20" text-anchor="middle">5</text>
<line x1="184.90" y1="362.50" x2="187.50" y2="362.50" stroke="#7a8090" stroke-width="0.7"/>
<text transform="translate(181.70,362.00) rotate(-90)" font-size="6.3" fill="#231f20" text-anchor="middle">0</text>
<line x1="187.50" y1="284.30" x2="339.50" y2="284.30" stroke="#eceef0" stroke-width="0.9"/>
<path d="M263.40,236.10 C263.57,236.80 263.90,239.08 264.40,240.30 C264.90,241.52 265.40,242.37 266.40,243.40 C267.40,244.43 268.95,245.28 270.40,246.50 C271.85,247.72 273.82,249.32 275.10,250.70 C276.38,252.08 277.55,253.43 278.10,254.80 C278.65,256.17 278.63,257.52 278.40,258.90 C278.17,260.28 276.97,261.88 276.70,263.10 C276.43,264.32 276.38,265.17 276.80,266.20 C277.22,267.23 277.93,268.08 279.20,269.30 C280.47,270.52 282.77,272.12 284.40,273.50 C286.03,274.88 287.83,276.27 289.00,277.60 C290.17,278.93 291.17,280.35 291.40,281.50 C291.63,282.65 291.30,283.57 290.40,284.50 C289.50,285.43 287.62,286.18 286.00,287.10 C284.38,288.02 283.20,288.60 280.70,290.00 C278.20,291.40 273.63,293.67 271.00,295.50 C268.37,297.33 266.10,299.42 264.90,301.00 C263.70,302.58 263.97,303.62 263.80,305.00 C263.63,306.38 263.55,307.65 263.90,309.30 C264.25,310.95 265.22,313.28 265.90,314.90 C266.58,316.52 267.47,317.45 268.00,319.00 C268.53,320.55 269.17,322.62 269.10,324.20 C269.03,325.78 267.92,327.30 267.60,328.50 C267.28,329.70 267.13,330.22 267.20,331.40 C267.27,332.58 267.68,333.63 268.00,335.60 C268.32,337.57 269.35,340.90 269.10,343.20 C268.85,345.50 267.25,347.45 266.50,349.40 C265.75,351.35 265.12,352.83 264.60,354.90 C264.08,356.97 263.60,360.65 263.40,361.80 L263.40,361.80 C263.20,360.65 262.72,356.97 262.20,354.90 C261.68,352.83 261.05,351.35 260.30,349.40 C259.55,347.45 257.95,345.50 257.70,343.20 C257.45,340.90 258.48,337.57 258.80,335.60 C259.12,333.63 259.53,332.58 259.60,331.40 C259.67,330.22 259.52,329.70 259.20,328.50 C258.88,327.30 257.77,325.78 257.70,324.20 C257.63,322.62 258.27,320.55 258.80,319.00 C259.33,317.45 260.22,316.52 260.90,314.90 C261.58,313.28 262.55,310.95 262.90,309.30 C263.25,307.65 263.17,306.38 263.00,305.00 C262.83,303.62 263.10,302.58 261.90,301.00 C260.70,299.42 258.43,297.33 255.80,295.50 C253.17,293.67 248.60,291.40 246.10,290.00 C243.60,288.60 242.42,288.02 240.80,287.10 C239.18,286.18 237.30,285.43 236.40,284.50 C235.50,283.57 235.17,282.65 235.40,281.50 C235.63,280.35 236.63,278.93 237.80,277.60 C238.97,276.27 240.77,274.88 242.40,273.50 C244.03,272.12 246.33,270.52 247.60,269.30 C248.87,268.08 249.58,267.23 250.00,266.20 C250.42,265.17 250.37,264.32 250.10,263.10 C249.83,261.88 248.63,260.28 248.40,258.90 C248.17,257.52 248.15,256.17 248.70,254.80 C249.25,253.43 250.42,252.08 251.70,250.70 C252.98,249.32 254.95,247.72 256.40,246.50 C257.85,245.28 259.40,244.43 260.40,243.40 C261.40,242.37 261.90,241.52 262.40,240.30 C262.90,239.08 263.23,236.80 263.40,236.10 Z" fill="#bdd1ed" stroke="#454c58" stroke-width="0.75"/>
<line x1="252.20" y1="255.30" x2="274.60" y2="255.30" stroke="#5a6070" stroke-width="1"/>
<line x1="257.80" y1="261.50" x2="269.00" y2="261.50" stroke="#5a6070" stroke-width="1"/>
<line x1="252.20" y1="274.30" x2="274.60" y2="274.30" stroke="#5a6070" stroke-width="1"/>
<line x1="252.20" y1="280.40" x2="274.60" y2="280.40" stroke="#5a6070" stroke-width="1"/>
<line x1="246.60" y1="286.70" x2="280.20" y2="286.70" stroke="#8a909c" stroke-width="1"/>
<line x1="257.70" y1="324.20" x2="269.10" y2="324.20" stroke="#5a6070" stroke-width="1"/>
<line x1="257.70" y1="343.20" x2="269.10" y2="343.20" stroke="#5a6070" stroke-width="1"/>
<line x1="228.00" y1="284.30" x2="298.80" y2="284.30" stroke="#444448" stroke-opacity="1" stroke-width="1.1"/>
<line x1="353.40" y1="236.00" x2="356.00" y2="236.00" stroke="#7a8090" stroke-width="0.7"/>
<text transform="translate(350.20,235.50) rotate(-90)" font-size="6.3" fill="#231f20" text-anchor="middle">1.00</text>
<line x1="353.40" y1="260.20" x2="356.00" y2="260.20" stroke="#7a8090" stroke-width="0.7"/>
<text transform="translate(350.20,259.70) rotate(-90)" font-size="6.3" fill="#231f20" text-anchor="middle">0.50</text>
<line x1="353.40" y1="292.20" x2="356.00" y2="292.20" stroke="#7a8090" stroke-width="0.7"/>
<text transform="translate(350.20,291.70) rotate(-90)" font-size="6.3" fill="#231f20" text-anchor="middle">0.20</text>
<line x1="353.40" y1="316.40" x2="356.00" y2="316.40" stroke="#7a8090" stroke-width="0.7"/>
<text transform="translate(350.20,315.90) rotate(-90)" font-size="6.3" fill="#231f20" text-anchor="middle">0.10</text>
<line x1="353.40" y1="340.60" x2="356.00" y2="340.60" stroke="#7a8090" stroke-width="0.7"/>
<text transform="translate(350.20,340.10) rotate(-90)" font-size="6.3" fill="#231f20" text-anchor="middle">0.05</text>
<line x1="356.00" y1="303.40" x2="508.00" y2="303.40" stroke="#eceef0" stroke-width="0.9"/>
<path d="M431.50,236.20 C431.58,237.17 431.83,240.03 432.00,242.00 C432.17,243.97 432.25,245.85 432.50,248.00 C432.75,250.15 432.93,252.60 433.50,254.90 C434.07,257.20 434.80,259.50 435.90,261.80 C437.00,264.10 438.67,266.40 440.10,268.70 C441.53,271.00 442.97,273.30 444.50,275.60 C446.03,277.90 447.67,280.20 449.30,282.50 C450.93,284.80 452.83,287.10 454.30,289.40 C455.77,291.70 457.23,293.95 458.10,296.30 C458.97,298.65 459.35,301.10 459.50,303.50 C459.65,305.90 459.47,308.35 459.00,310.70 C458.53,313.05 457.88,315.30 456.70,317.60 C455.52,319.90 453.78,322.20 451.90,324.50 C450.02,326.80 447.52,329.10 445.40,331.40 C443.28,333.70 441.00,336.00 439.20,338.30 C437.40,340.60 435.70,342.88 434.60,345.20 C433.50,347.52 433.05,350.23 432.60,352.20 C432.15,354.17 432.08,355.40 431.90,357.00 C431.72,358.60 431.57,361.00 431.50,361.80 L431.50,361.80 C431.43,361.00 431.28,358.60 431.10,357.00 C430.92,355.40 430.85,354.17 430.40,352.20 C429.95,350.23 429.50,347.52 428.40,345.20 C427.30,342.88 425.60,340.60 423.80,338.30 C422.00,336.00 419.72,333.70 417.60,331.40 C415.48,329.10 412.98,326.80 411.10,324.50 C409.22,322.20 407.48,319.90 406.30,317.60 C405.12,315.30 404.47,313.05 404.00,310.70 C403.53,308.35 403.35,305.90 403.50,303.50 C403.65,301.10 404.03,298.65 404.90,296.30 C405.77,293.95 407.23,291.70 408.70,289.40 C410.17,287.10 412.07,284.80 413.70,282.50 C415.33,280.20 416.97,277.90 418.50,275.60 C420.03,273.30 421.47,271.00 422.90,268.70 C424.33,266.40 426.00,264.10 427.10,261.80 C428.20,259.50 428.93,257.20 429.50,254.90 C430.07,252.60 430.25,250.15 430.50,248.00 C430.75,245.85 430.83,243.97 431.00,242.00 C431.17,240.03 431.42,237.17 431.50,236.20 Z" fill="#bdd1ed" stroke="#454c58" stroke-width="0.75"/>
<line x1="425.70" y1="273.50" x2="437.30" y2="273.50" stroke="#5a6070" stroke-width="1"/>
<line x1="425.70" y1="284.30" x2="437.30" y2="284.30" stroke="#5a6070" stroke-width="1"/>
<line x1="425.70" y1="288.00" x2="437.30" y2="288.00" stroke="#8a909c" stroke-width="1"/>
<line x1="425.70" y1="292.40" x2="437.30" y2="292.40" stroke="#5a6070" stroke-width="1"/>
<line x1="425.70" y1="297.40" x2="437.30" y2="297.40" stroke="#5a6070" stroke-width="1"/>
<line x1="425.70" y1="302.30" x2="437.30" y2="302.30" stroke="#474c58" stroke-width="1"/>
<line x1="425.70" y1="305.30" x2="437.30" y2="305.30" stroke="#8a909c" stroke-width="1"/>
<line x1="425.70" y1="312.90" x2="437.30" y2="312.90" stroke="#5a6070" stroke-width="1"/>
<line x1="425.70" y1="314.60" x2="437.30" y2="314.60" stroke="#5a6070" stroke-width="1"/>
<line x1="425.70" y1="320.70" x2="437.30" y2="320.70" stroke="#8a909c" stroke-width="1"/>
<line x1="420.10" y1="325.20" x2="442.90" y2="325.20" stroke="#5a6070" stroke-width="1"/>
<line x1="396.10" y1="303.30" x2="466.90" y2="303.30" stroke="#33282e" stroke-opacity="1" stroke-width="1.2"/>
<line x1="521.90" y1="347.70" x2="524.50" y2="347.70" stroke="#7a8090" stroke-width="0.7"/>
<text transform="translate(518.70,347.20) rotate(-90)" font-size="6.3" fill="#231f20" text-anchor="middle">2</text>
<line x1="521.90" y1="324.90" x2="524.50" y2="324.90" stroke="#7a8090" stroke-width="0.7"/>
<text transform="translate(518.70,324.40) rotate(-90)" font-size="6.3" fill="#231f20" text-anchor="middle">3</text>
<line x1="521.90" y1="302.10" x2="524.50" y2="302.10" stroke="#7a8090" stroke-width="0.7"/>
<text transform="translate(518.70,301.60) rotate(-90)" font-size="6.3" fill="#231f20" text-anchor="middle">4</text>
<line x1="521.90" y1="279.30" x2="524.50" y2="279.30" stroke="#7a8090" stroke-width="0.7"/>
<text transform="translate(518.70,278.80) rotate(-90)" font-size="6.3" fill="#231f20" text-anchor="middle">5</text>
<line x1="521.90" y1="256.50" x2="524.50" y2="256.50" stroke="#7a8090" stroke-width="0.7"/>
<text transform="translate(518.70,256.00) rotate(-90)" font-size="6.3" fill="#231f20" text-anchor="middle">6</text>
<line x1="521.90" y1="233.70" x2="524.50" y2="233.70" stroke="#7a8090" stroke-width="0.7"/>
<text transform="translate(518.70,233.20) rotate(-90)" font-size="6.3" fill="#231f20" text-anchor="middle">7</text>
<line x1="524.50" y1="288.50" x2="676.50" y2="288.50" stroke="#eceef0" stroke-width="0.9"/>
<path d="M600.30,236.20 C600.40,236.83 600.65,238.70 600.90,240.00 C601.15,241.30 601.42,242.75 601.80,244.00 C602.18,245.25 602.72,246.33 603.20,247.50 C603.68,248.67 604.28,249.65 604.70,251.00 C605.12,252.35 605.45,254.03 605.70,255.60 C605.95,257.17 605.72,258.92 606.20,260.40 C606.68,261.88 606.88,262.90 608.60,264.50 C610.32,266.10 613.97,268.15 616.50,270.00 C619.03,271.85 621.90,273.75 623.80,275.60 C625.70,277.45 627.13,279.50 627.90,281.10 C628.67,282.70 628.80,283.82 628.40,285.20 C628.00,286.58 627.53,287.78 625.50,289.40 C623.47,291.02 618.85,293.28 616.20,294.90 C613.55,296.52 611.25,297.48 609.60,299.10 C607.95,300.72 606.93,302.78 606.30,304.60 C605.67,306.42 605.92,308.63 605.80,310.00 C605.68,311.37 605.82,311.72 605.60,312.80 C605.38,313.88 604.98,315.13 604.50,316.50 C604.02,317.87 603.28,319.42 602.70,321.00 C602.12,322.58 601.15,324.50 601.00,326.00 C600.85,327.50 601.42,328.67 601.80,330.00 C602.18,331.33 602.80,332.67 603.30,334.00 C603.80,335.33 604.42,336.58 604.80,338.00 C605.18,339.42 605.58,341.17 605.60,342.50 C605.62,343.83 605.25,344.85 604.90,346.00 C604.55,347.15 603.97,348.23 603.50,349.40 C603.03,350.57 602.47,351.85 602.10,353.00 C601.73,354.15 601.53,355.22 601.30,356.30 C601.07,357.38 600.87,358.47 600.70,359.50 C600.53,360.53 600.37,362.00 600.30,362.50 L600.30,362.50 C600.23,362.00 600.07,360.53 599.90,359.50 C599.73,358.47 599.53,357.38 599.30,356.30 C599.07,355.22 598.87,354.15 598.50,353.00 C598.13,351.85 597.57,350.57 597.10,349.40 C596.63,348.23 596.05,347.15 595.70,346.00 C595.35,344.85 594.98,343.83 595.00,342.50 C595.02,341.17 595.42,339.42 595.80,338.00 C596.18,336.58 596.80,335.33 597.30,334.00 C597.80,332.67 598.42,331.33 598.80,330.00 C599.18,328.67 599.75,327.50 599.60,326.00 C599.45,324.50 598.48,322.58 597.90,321.00 C597.32,319.42 596.58,317.87 596.10,316.50 C595.62,315.13 595.22,313.88 595.00,312.80 C594.78,311.72 594.92,311.37 594.80,310.00 C594.68,308.63 594.93,306.42 594.30,304.60 C593.67,302.78 592.65,300.72 591.00,299.10 C589.35,297.48 587.05,296.52 584.40,294.90 C581.75,293.28 577.13,291.02 575.10,289.40 C573.07,287.78 572.60,286.58 572.20,285.20 C571.80,283.82 571.93,282.70 572.70,281.10 C573.47,279.50 574.90,277.45 576.80,275.60 C578.70,273.75 581.57,271.85 584.10,270.00 C586.63,268.15 590.28,266.10 592.00,264.50 C593.72,262.90 593.92,261.88 594.40,260.40 C594.88,258.92 594.65,257.17 594.90,255.60 C595.15,254.03 595.48,252.35 595.90,251.00 C596.32,249.65 596.92,248.67 597.40,247.50 C597.88,246.33 598.42,245.25 598.80,244.00 C599.18,242.75 599.45,241.30 599.70,240.00 C599.95,238.70 600.20,236.83 600.30,236.20 Z" fill="#bdd1ed" stroke="#454c58" stroke-width="0.75"/>
<line x1="594.90" y1="255.60" x2="605.70" y2="255.60" stroke="#8a909c" stroke-width="1"/>
<line x1="594.60" y1="271.50" x2="606.00" y2="271.50" stroke="#5a6070" stroke-width="1"/>
<line x1="594.60" y1="275.10" x2="606.00" y2="275.10" stroke="#8a909c" stroke-width="1"/>
<line x1="594.60" y1="278.30" x2="606.00" y2="278.30" stroke="#5a6070" stroke-width="1"/>
<line x1="594.60" y1="282.10" x2="606.00" y2="282.10" stroke="#474c58" stroke-width="1"/>
<line x1="594.60" y1="287.70" x2="606.00" y2="287.70" stroke="#474c58" stroke-width="1"/>
<line x1="594.60" y1="289.10" x2="606.00" y2="289.10" stroke="#474c58" stroke-width="1"/>
<line x1="594.60" y1="295.50" x2="606.00" y2="295.50" stroke="#5a6070" stroke-width="1"/>
<line x1="594.90" y1="312.80" x2="605.70" y2="312.80" stroke="#8a909c" stroke-width="1"/>
<line x1="595.00" y1="342.50" x2="605.60" y2="342.50" stroke="#8a909c" stroke-width="1"/>
<line x1="564.90" y1="288.50" x2="635.70" y2="288.50" stroke="#2e2e30" stroke-opacity="1" stroke-width="1.2"/>
<line x1="16.40" y1="504.20" x2="19.00" y2="504.20" stroke="#7a8090" stroke-width="0.7"/>
<text transform="translate(13.20,503.70) rotate(-90)" font-size="6.3" fill="#231f20" text-anchor="middle">2</text>
<line x1="16.40" y1="477.36" x2="19.00" y2="477.36" stroke="#7a8090" stroke-width="0.7"/>
<text transform="translate(13.20,476.86) rotate(-90)" font-size="6.3" fill="#231f20" text-anchor="middle">3</text>
<line x1="16.40" y1="458.32" x2="19.00" y2="458.32" stroke="#7a8090" stroke-width="0.7"/>
<text transform="translate(13.20,457.82) rotate(-90)" font-size="6.3" fill="#231f20" text-anchor="middle">4</text>
<line x1="16.40" y1="443.55" x2="19.00" y2="443.55" stroke="#7a8090" stroke-width="0.7"/>
<text transform="translate(13.20,443.05) rotate(-90)" font-size="6.3" fill="#231f20" text-anchor="middle">5</text>
<line x1="16.40" y1="431.49" x2="19.00" y2="431.49" stroke="#7a8090" stroke-width="0.7"/>
<text transform="translate(13.20,430.99) rotate(-90)" font-size="6.3" fill="#231f20" text-anchor="middle">6</text>
<line x1="16.40" y1="421.28" x2="19.00" y2="421.28" stroke="#7a8090" stroke-width="0.7"/>
<text transform="translate(13.20,420.78) rotate(-90)" font-size="6.3" fill="#231f20" text-anchor="middle">7</text>
<line x1="19.00" y1="487.30" x2="171.00" y2="487.30" stroke="#eceef0" stroke-width="0.9"/>
<path d="M95.00,418.30 C95.08,419.08 95.33,421.37 95.50,423.00 C95.67,424.63 95.68,426.25 96.00,428.10 C96.32,429.95 96.87,432.10 97.40,434.10 C97.93,436.10 98.72,438.40 99.20,440.10 C99.68,441.80 100.20,442.88 100.30,444.30 C100.40,445.72 99.92,447.28 99.80,448.60 C99.68,449.92 99.52,450.97 99.60,452.20 C99.68,453.43 99.95,454.95 100.30,456.00 C100.65,457.05 101.10,457.73 101.70,458.50 C102.30,459.27 102.78,459.63 103.90,460.60 C105.02,461.57 106.72,462.68 108.40,464.30 C110.08,465.92 112.42,468.30 114.00,470.30 C115.58,472.30 116.68,474.30 117.90,476.30 C119.12,478.30 120.47,480.43 121.30,482.30 C122.13,484.17 123.37,485.40 122.90,487.50 C122.43,489.60 120.15,492.75 118.50,494.90 C116.85,497.05 114.27,498.57 113.00,500.40 C111.73,502.23 111.40,503.83 110.90,505.90 C110.40,507.97 110.82,510.50 110.00,512.80 C109.18,515.10 107.70,517.40 106.00,519.70 C104.30,522.00 101.35,524.52 99.80,526.60 C98.25,528.68 97.42,530.30 96.70,532.20 C95.98,534.10 95.78,536.05 95.50,538.00 C95.22,539.95 95.08,542.92 95.00,543.90 L95.00,543.90 C94.92,542.92 94.78,539.95 94.50,538.00 C94.22,536.05 94.02,534.10 93.30,532.20 C92.58,530.30 91.75,528.68 90.20,526.60 C88.65,524.52 85.70,522.00 84.00,519.70 C82.30,517.40 80.82,515.10 80.00,512.80 C79.18,510.50 79.60,507.97 79.10,505.90 C78.60,503.83 78.27,502.23 77.00,500.40 C75.73,498.57 73.15,497.05 71.50,494.90 C69.85,492.75 67.57,489.60 67.10,487.50 C66.63,485.40 67.87,484.17 68.70,482.30 C69.53,480.43 70.88,478.30 72.10,476.30 C73.32,474.30 74.42,472.30 76.00,470.30 C77.58,468.30 79.92,465.92 81.60,464.30 C83.28,462.68 84.98,461.57 86.10,460.60 C87.22,459.63 87.70,459.27 88.30,458.50 C88.90,457.73 89.35,457.05 89.70,456.00 C90.05,454.95 90.32,453.43 90.40,452.20 C90.48,450.97 90.32,449.92 90.20,448.60 C90.08,447.28 89.60,445.72 89.70,444.30 C89.80,442.88 90.32,441.80 90.80,440.10 C91.28,438.40 92.07,436.10 92.60,434.10 C93.13,432.10 93.68,429.95 94.00,428.10 C94.32,426.25 94.33,424.63 94.50,423.00 C94.67,421.37 94.92,419.08 95.00,418.30 Z" fill="#bdd1ed" stroke="#454c58" stroke-width="0.75"/>
<line x1="89.60" y1="444.30" x2="100.40" y2="444.30" stroke="#5a6070" stroke-width="1"/>
<line x1="89.30" y1="468.70" x2="100.70" y2="468.70" stroke="#8a909c" stroke-width="1"/>
<line x1="89.30" y1="471.20" x2="100.70" y2="471.20" stroke="#5a6070" stroke-width="1"/>
<line x1="89.30" y1="479.30" x2="100.70" y2="479.30" stroke="#5a6070" stroke-width="1"/>
<line x1="89.30" y1="484.50" x2="100.70" y2="484.50" stroke="#474c58" stroke-width="1"/>
<line x1="89.30" y1="485.30" x2="100.70" y2="485.30" stroke="#474c58" stroke-width="1"/>
<line x1="89.30" y1="490.70" x2="100.70" y2="490.70" stroke="#5a6070" stroke-width="1"/>
<line x1="89.30" y1="492.50" x2="100.70" y2="492.50" stroke="#474c58" stroke-width="1"/>
<line x1="89.30" y1="509.40" x2="100.70" y2="509.40" stroke="#5a6070" stroke-width="1"/>
<line x1="89.30" y1="512.10" x2="100.70" y2="512.10" stroke="#5a6070" stroke-width="1"/>
<line x1="89.30" y1="518.30" x2="100.70" y2="518.30" stroke="#8a909c" stroke-width="1"/>
<line x1="59.60" y1="487.30" x2="130.40" y2="487.30" stroke="#303236" stroke-opacity="1" stroke-width="1.2"/>
<line x1="184.90" y1="433.55" x2="187.50" y2="433.55" stroke="#7a8090" stroke-width="0.7"/>
<text transform="translate(181.70,433.05) rotate(-90)" font-size="6.3" fill="#231f20" text-anchor="middle">1500</text>
<line x1="184.90" y1="459.10" x2="187.50" y2="459.10" stroke="#7a8090" stroke-width="0.7"/>
<text transform="translate(181.70,458.60) rotate(-90)" font-size="6.3" fill="#231f20" text-anchor="middle">1000</text>
<line x1="184.90" y1="484.65" x2="187.50" y2="484.65" stroke="#7a8090" stroke-width="0.7"/>
<text transform="translate(181.70,484.15) rotate(-90)" font-size="6.3" fill="#231f20" text-anchor="middle">500</text>
<line x1="184.90" y1="510.20" x2="187.50" y2="510.20" stroke="#7a8090" stroke-width="0.7"/>
<text transform="translate(181.70,509.70) rotate(-90)" font-size="6.3" fill="#231f20" text-anchor="middle">0</text>
<line x1="184.90" y1="535.75" x2="187.50" y2="535.75" stroke="#7a8090" stroke-width="0.7"/>
<text transform="translate(181.70,535.25) rotate(-90)" font-size="6.3" fill="#231f20" text-anchor="middle">-500</text>
<line x1="187.50" y1="482.40" x2="339.50" y2="482.40" stroke="#eceef0" stroke-width="0.9"/>
<path d="M263.30,418.30 C263.37,419.25 263.55,422.17 263.70,424.00 C263.85,425.83 263.93,427.27 264.20,429.30 C264.47,431.33 264.73,433.90 265.30,436.20 C265.87,438.50 266.50,440.80 267.60,443.10 C268.70,445.40 270.33,447.68 271.90,450.00 C273.47,452.32 275.30,454.68 277.00,457.00 C278.70,459.32 280.55,461.60 282.10,463.90 C283.65,466.20 285.10,468.50 286.30,470.80 C287.50,473.10 288.50,475.40 289.30,477.70 C290.10,480.00 290.75,482.43 291.10,484.60 C291.45,486.77 291.72,488.53 291.40,490.70 C291.08,492.87 290.28,495.30 289.20,497.60 C288.12,499.90 286.62,502.20 284.90,504.50 C283.18,506.80 280.97,509.10 278.90,511.40 C276.83,513.70 274.40,516.00 272.50,518.30 C270.60,520.60 268.83,522.88 267.50,525.20 C266.17,527.52 265.13,530.07 264.50,532.20 C263.87,534.33 263.90,536.05 263.70,538.00 C263.50,539.95 263.37,542.92 263.30,543.90 L263.30,543.90 C263.23,542.92 263.10,539.95 262.90,538.00 C262.70,536.05 262.73,534.33 262.10,532.20 C261.47,530.07 260.43,527.52 259.10,525.20 C257.77,522.88 256.00,520.60 254.10,518.30 C252.20,516.00 249.77,513.70 247.70,511.40 C245.63,509.10 243.42,506.80 241.70,504.50 C239.98,502.20 238.48,499.90 237.40,497.60 C236.32,495.30 235.52,492.87 235.20,490.70 C234.88,488.53 235.15,486.77 235.50,484.60 C235.85,482.43 236.50,480.00 237.30,477.70 C238.10,475.40 239.10,473.10 240.30,470.80 C241.50,468.50 242.95,466.20 244.50,463.90 C246.05,461.60 247.90,459.32 249.60,457.00 C251.30,454.68 253.13,452.32 254.70,450.00 C256.27,447.68 257.90,445.40 259.00,443.10 C260.10,440.80 260.73,438.50 261.30,436.20 C261.87,433.90 262.13,431.33 262.40,429.30 C262.67,427.27 262.75,425.83 262.90,424.00 C263.05,422.17 263.23,419.25 263.30,418.30 Z" fill="#bdd1ed" stroke="#454c58" stroke-width="0.75"/>
<line x1="257.70" y1="456.30" x2="268.90" y2="456.30" stroke="#474c58" stroke-width="1"/>
<line x1="257.70" y1="466.40" x2="268.90" y2="466.40" stroke="#5a6070" stroke-width="1"/>
<line x1="257.70" y1="472.40" x2="268.90" y2="472.40" stroke="#8a909c" stroke-width="1"/>
<line x1="257.70" y1="478.50" x2="268.90" y2="478.50" stroke="#474c58" stroke-width="1"/>
<line x1="257.70" y1="488.00" x2="268.90" y2="488.00" stroke="#8a909c" stroke-width="1"/>
<line x1="257.70" y1="491.40" x2="268.90" y2="491.40" stroke="#5a6070" stroke-width="1"/>
<line x1="257.70" y1="494.40" x2="268.90" y2="494.40" stroke="#5a6070" stroke-width="1"/>
<line x1="257.70" y1="498.00" x2="268.90" y2="498.00" stroke="#8a909c" stroke-width="1"/>
<line x1="257.70" y1="505.50" x2="268.90" y2="505.50" stroke="#5a6070" stroke-width="1"/>
<line x1="257.70" y1="506.30" x2="268.90" y2="506.30" stroke="#5a6070" stroke-width="1"/>
<line x1="227.90" y1="482.55" x2="298.70" y2="482.55" stroke="#5f4a52" stroke-opacity="1" stroke-width="1.3"/>
<line x1="353.40" y1="441.90" x2="356.00" y2="441.90" stroke="#7a8090" stroke-width="0.7"/>
<text transform="translate(350.20,441.40) rotate(-90)" font-size="6.3" fill="#231f20" text-anchor="middle">3.0</text>
<line x1="353.40" y1="475.40" x2="356.00" y2="475.40" stroke="#7a8090" stroke-width="0.7"/>
<text transform="translate(350.20,474.90) rotate(-90)" font-size="6.3" fill="#231f20" text-anchor="middle">2.5</text>
<line x1="353.40" y1="508.90" x2="356.00" y2="508.90" stroke="#7a8090" stroke-width="0.7"/>
<text transform="translate(350.20,508.40) rotate(-90)" font-size="6.3" fill="#231f20" text-anchor="middle">2.0</text>
<line x1="353.40" y1="542.40" x2="356.00" y2="542.40" stroke="#7a8090" stroke-width="0.7"/>
<text transform="translate(350.20,541.90) rotate(-90)" font-size="6.3" fill="#231f20" text-anchor="middle">1.5</text>
<line x1="356.00" y1="493.90" x2="508.00" y2="493.90" stroke="#eceef0" stroke-width="0.9"/>
<path d="M431.60,418.30 C431.67,418.92 431.87,420.62 432.00,422.00 C432.13,423.38 431.83,424.45 432.40,426.60 C432.97,428.75 434.55,432.03 435.40,434.90 C436.25,437.77 436.97,441.05 437.50,443.80 C438.03,446.55 438.48,449.17 438.60,451.40 C438.72,453.63 438.42,454.90 438.20,457.20 C437.98,459.50 437.38,462.25 437.30,465.20 C437.22,468.15 437.33,472.27 437.70,474.90 C438.07,477.53 438.48,479.23 439.50,481.00 C440.52,482.77 442.55,484.17 443.80,485.50 C445.05,486.83 445.40,487.67 447.00,489.00 C448.60,490.33 451.53,491.83 453.40,493.50 C455.27,495.17 457.17,497.28 458.20,499.00 C459.23,500.72 459.67,501.97 459.60,503.80 C459.53,505.63 459.10,507.80 457.80,510.00 C456.50,512.20 454.03,514.68 451.80,517.00 C449.57,519.32 446.67,521.83 444.40,523.90 C442.13,525.97 439.95,527.57 438.20,529.40 C436.45,531.23 434.90,533.30 433.90,534.90 C432.90,536.50 432.58,537.50 432.20,539.00 C431.82,540.50 431.70,543.08 431.60,543.90 L431.60,543.90 C431.50,543.08 431.38,540.50 431.00,539.00 C430.62,537.50 430.30,536.50 429.30,534.90 C428.30,533.30 426.75,531.23 425.00,529.40 C423.25,527.57 421.07,525.97 418.80,523.90 C416.53,521.83 413.63,519.32 411.40,517.00 C409.17,514.68 406.70,512.20 405.40,510.00 C404.10,507.80 403.67,505.63 403.60,503.80 C403.53,501.97 403.97,500.72 405.00,499.00 C406.03,497.28 407.93,495.17 409.80,493.50 C411.67,491.83 414.60,490.33 416.20,489.00 C417.80,487.67 418.15,486.83 419.40,485.50 C420.65,484.17 422.68,482.77 423.70,481.00 C424.72,479.23 425.13,477.53 425.50,474.90 C425.87,472.27 425.98,468.15 425.90,465.20 C425.82,462.25 425.22,459.50 425.00,457.20 C424.78,454.90 424.48,453.63 424.60,451.40 C424.72,449.17 425.17,446.55 425.70,443.80 C426.23,441.05 426.95,437.77 427.80,434.90 C428.65,432.03 430.23,428.75 430.80,426.60 C431.37,424.45 431.07,423.38 431.20,422.00 C431.33,420.62 431.53,418.92 431.60,418.30 Z" fill="#bdd1ed" stroke="#454c58" stroke-width="0.75"/>
<line x1="425.70" y1="443.80" x2="437.50" y2="443.80" stroke="#5a6070" stroke-width="1"/>
<line x1="425.00" y1="457.20" x2="438.20" y2="457.20" stroke="#5a6070" stroke-width="1"/>
<line x1="425.50" y1="475.30" x2="437.70" y2="475.30" stroke="#5a6070" stroke-width="1"/>
<line x1="425.80" y1="494.80" x2="437.40" y2="494.80" stroke="#474c58" stroke-width="1"/>
<line x1="425.80" y1="495.80" x2="437.40" y2="495.80" stroke="#5a6070" stroke-width="1"/>
<line x1="425.80" y1="499.30" x2="437.40" y2="499.30" stroke="#5a6070" stroke-width="1"/>
<line x1="425.80" y1="506.20" x2="437.40" y2="506.20" stroke="#5a6070" stroke-width="1"/>
<line x1="425.80" y1="508.40" x2="437.40" y2="508.40" stroke="#5a6070" stroke-width="1"/>
<line x1="425.80" y1="510.30" x2="437.40" y2="510.30" stroke="#5a6070" stroke-width="1"/>
<line x1="425.80" y1="517.50" x2="437.40" y2="517.50" stroke="#474c58" stroke-width="1"/>
<line x1="396.20" y1="494.00" x2="467.00" y2="494.00" stroke="#201a1c" stroke-opacity="0.42" stroke-width="1.8"/>
<line x1="521.90" y1="426.40" x2="524.50" y2="426.40" stroke="#7a8090" stroke-width="0.7"/>
<text transform="translate(518.70,425.90) rotate(-90)" font-size="6.3" fill="#231f20" text-anchor="middle">2500</text>
<line x1="521.90" y1="444.20" x2="524.50" y2="444.20" stroke="#7a8090" stroke-width="0.7"/>
<text transform="translate(518.70,443.70) rotate(-90)" font-size="6.3" fill="#231f20" text-anchor="middle">2000</text>
<line x1="521.90" y1="462.00" x2="524.50" y2="462.00" stroke="#7a8090" stroke-width="0.7"/>
<text transform="translate(518.70,461.50) rotate(-90)" font-size="6.3" fill="#231f20" text-anchor="middle">1500</text>
<line x1="521.90" y1="479.80" x2="524.50" y2="479.80" stroke="#7a8090" stroke-width="0.7"/>
<text transform="translate(518.70,479.30) rotate(-90)" font-size="6.3" fill="#231f20" text-anchor="middle">1000</text>
<line x1="521.90" y1="497.60" x2="524.50" y2="497.60" stroke="#7a8090" stroke-width="0.7"/>
<text transform="translate(518.70,497.10) rotate(-90)" font-size="6.3" fill="#231f20" text-anchor="middle">500</text>
<line x1="521.90" y1="515.40" x2="524.50" y2="515.40" stroke="#7a8090" stroke-width="0.7"/>
<text transform="translate(518.70,514.90) rotate(-90)" font-size="6.3" fill="#231f20" text-anchor="middle">0</text>
<line x1="521.90" y1="533.20" x2="524.50" y2="533.20" stroke="#7a8090" stroke-width="0.7"/>
<text transform="translate(518.70,532.70) rotate(-90)" font-size="6.3" fill="#231f20" text-anchor="middle">-500</text>
<line x1="524.50" y1="486.60" x2="676.50" y2="486.60" stroke="#eceef0" stroke-width="0.9"/>
<path d="M600.30,418.30 C600.38,419.08 600.60,421.38 600.80,423.00 C601.00,424.62 601.02,426.02 601.50,428.00 C601.98,429.98 602.57,432.38 603.70,434.90 C604.83,437.42 607.12,440.58 608.30,443.10 C609.48,445.62 610.30,447.68 610.80,450.00 C611.30,452.32 611.02,454.68 611.30,457.00 C611.58,459.32 611.60,461.83 612.50,463.90 C613.40,465.97 615.07,467.33 616.70,469.40 C618.33,471.47 620.60,474.00 622.30,476.30 C624.00,478.60 625.88,481.20 626.90,483.20 C627.92,485.20 628.23,486.35 628.40,488.30 C628.57,490.25 628.38,492.65 627.90,494.90 C627.42,497.15 626.62,499.50 625.50,501.80 C624.38,504.10 622.88,506.40 621.20,508.70 C619.52,511.00 617.32,513.30 615.40,515.60 C613.48,517.90 611.52,520.20 609.70,522.50 C607.88,524.80 605.82,527.33 604.50,529.40 C603.18,531.47 602.42,533.30 601.80,534.90 C601.18,536.50 601.05,537.50 600.80,539.00 C600.55,540.50 600.38,543.08 600.30,543.90 L600.30,543.90 C600.22,543.08 600.05,540.50 599.80,539.00 C599.55,537.50 599.42,536.50 598.80,534.90 C598.18,533.30 597.42,531.47 596.10,529.40 C594.78,527.33 592.72,524.80 590.90,522.50 C589.08,520.20 587.12,517.90 585.20,515.60 C583.28,513.30 581.08,511.00 579.40,508.70 C577.72,506.40 576.22,504.10 575.10,501.80 C573.98,499.50 573.18,497.15 572.70,494.90 C572.22,492.65 572.03,490.25 572.20,488.30 C572.37,486.35 572.68,485.20 573.70,483.20 C574.72,481.20 576.60,478.60 578.30,476.30 C580.00,474.00 582.27,471.47 583.90,469.40 C585.53,467.33 587.20,465.97 588.10,463.90 C589.00,461.83 589.02,459.32 589.30,457.00 C589.58,454.68 589.30,452.32 589.80,450.00 C590.30,447.68 591.12,445.62 592.30,443.10 C593.48,440.58 595.77,437.42 596.90,434.90 C598.03,432.38 598.62,429.98 599.10,428.00 C599.58,426.02 599.60,424.62 599.80,423.00 C600.00,421.38 600.22,419.08 600.30,418.30 Z" fill="#bdd1ed" stroke="#454c58" stroke-width="0.75"/>
<line x1="594.80" y1="449.40" x2="605.80" y2="449.40" stroke="#5a6070" stroke-width="1"/>
<line x1="594.80" y1="452.40" x2="605.80" y2="452.40" stroke="#5a6070" stroke-width="1"/>
<line x1="594.80" y1="473.50" x2="605.80" y2="473.50" stroke="#5a6070" stroke-width="1"/>
<line x1="594.80" y1="479.80" x2="605.80" y2="479.80" stroke="#8a909c" stroke-width="1"/>
<line x1="594.80" y1="482.50" x2="605.80" y2="482.50" stroke="#8a909c" stroke-width="1"/>
<line x1="594.80" y1="487.30" x2="605.80" y2="487.30" stroke="#474c58" stroke-width="1"/>
<line x1="594.80" y1="488.10" x2="605.80" y2="488.10" stroke="#474c58" stroke-width="1"/>
<line x1="594.80" y1="496.20" x2="605.80" y2="496.20" stroke="#5a6070" stroke-width="1"/>
<line x1="594.80" y1="498.70" x2="605.80" y2="498.70" stroke="#8a909c" stroke-width="1"/>
<line x1="594.80" y1="507.30" x2="605.80" y2="507.30" stroke="#5a6070" stroke-width="1"/>
<line x1="594.80" y1="512.10" x2="605.80" y2="512.10" stroke="#474c58" stroke-width="1"/>
<line x1="564.90" y1="486.80" x2="635.70" y2="486.80" stroke="#1e1a1a" stroke-opacity="0.5" stroke-width="1.5"/>
</svg>
</body></html>
